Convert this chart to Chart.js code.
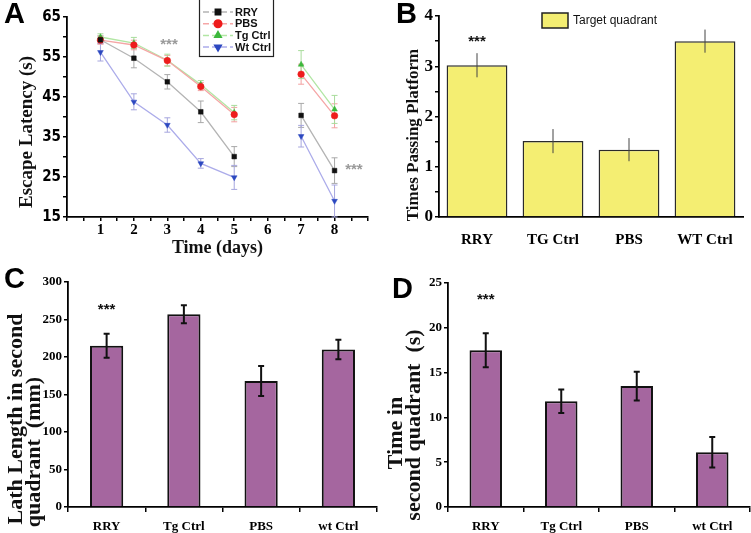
<!DOCTYPE html>
<html>
<head>
<meta charset="utf-8">
<script src="https://cdn.jsdelivr.net/npm/chart.js@4.4.1/dist/chart.umd.min.js"></script>
<style>
  body { margin: 0; background: #fff; width: 751px; height: 533px; position: relative; overflow: hidden; }
  canvas { position: absolute; }
  .panel { position: absolute; font-family: 'Liberation Sans', Arial, sans-serif; font-weight: bold; font-size: 29px; line-height: 29px; color: #000; }
  .ytitle { position: absolute; font-family: 'Liberation Serif', 'Times New Roman', serif; font-weight: bold; white-space: nowrap;
            transform: translate(-50%, -50%) rotate(-90deg); color: #111; line-height: 1; }
</style>
</head>
<body>
<canvas id="chartA" width="375" height="260" style="left:0;top:0"></canvas>
<canvas id="chartB" width="371" height="260" style="left:380px;top:0"></canvas>
<canvas id="chartC" width="380" height="273" style="left:0;top:260px"></canvas>
<canvas id="chartD" width="371" height="273" style="left:380px;top:260px"></canvas>

<div class="panel" style="left:4px;top:-1px">A</div>
<div class="panel" style="left:396px;top:-1px">B</div>
<div class="panel" style="left:4px;top:264px">C</div>
<div class="panel" style="left:392px;top:274px">D</div>

<div class="ytitle" style="left:25px;top:132px;font-size:19px">Escape Latency (s)</div>
<div class="ytitle" style="left:412px;top:135px;font-size:17px">Times Passing Platform</div>
<div class="ytitle" style="left:15px;top:419px;font-size:22px">Lath Length in second</div>
<div class="ytitle" style="left:33px;top:452px;font-size:22px">quadrant&nbsp;&nbsp;(mm)</div>
<div class="ytitle" style="left:395px;top:433px;font-size:22px">Time in</div>
<div class="ytitle" style="left:413px;top:425px;font-size:22px">second quadrant&nbsp;&nbsp;(s)</div>

<script>
// Panel A: escape latency per day (day 6 has no trial)
const days = [1, 2, 3, 4, 5, 6, 7, 8];
const rryLatency = [59.3, 54.7, 48.8, 41.3, 30.1, null, 40.4, 26.6];
const rryErr     = [1.0, 2.4, 1.8, 2.7, 2.5, null, 3.0, 3.2];
const pbsLatency = [59.2, 58.0, 54.1, 47.6, 40.6, null, 50.7, 40.3];
const pbsErr     = [1.0, 1.2, 1.3, 1.0, 1.8, null, 2.5, 3.0];
const tgLatency  = [60.0, 58.5, 54.2, 48.1, 41.1, null, 53.1, 41.9];
const tgErr      = [0.8, 1.4, 1.5, 1.0, 1.8, null, 3.5, 3.5];
const wtLatency  = [56.2, 43.8, 38.0, 28.4, 24.9, null, 35.2, 19.0];
const wtErr      = [2.2, 2.0, 1.8, 1.2, 3.0, null, 2.7, 4.0];

// Panel B: times passing platform
const groupsB = ['RRY', 'TG Ctrl', 'PBS', 'WT Ctrl'];
const timesPassing = [3.02, 1.51, 1.34, 3.50];
const timesErr = [0.24, 0.24, 0.23, 0.23];

// Panels C and D
const groupsCD = ['RRY', 'Tg Ctrl', 'PBS', 'wt Ctrl'];
const lathLength = [215, 257, 168, 210];
const lathErr = [16, 12, 20, 13];
const quadrantTime = [17.5, 11.8, 13.5, 6.1];
const quadrantErr = [1.9, 1.3, 1.6, 1.7];

Chart.defaults.animation = false;
Chart.defaults.responsive = false;
Chart.defaults.plugins.legend.display = false;
Chart.defaults.plugins.tooltip.enabled = false;
Chart.defaults.color = '#000';

const serif = "'Liberation Serif', 'Times New Roman', serif";
const narrow = "'Liberation Sans Narrow', 'DejaVu Sans Condensed', 'Liberation Sans', sans-serif";

// draws +/- error bars for every dataset that carries an `errors` array
function drawErrors(chart, opts) {
  const ctx = chart.ctx;
  const yScale = chart.scales.y;
  chart.data.datasets.forEach((ds, di) => {
    if (!ds.errors) return;
    const meta = chart.getDatasetMeta(di);
    meta.data.forEach((el, i) => {
      const raw = ds.data[i];
      const val = raw !== null && typeof raw === 'object' ? raw.y : raw;
      const err = ds.errors[i];
      if (val == null || err == null) return;
      const top = yScale.getPixelForValue(val + err);
      const bot = yScale.getPixelForValue(val - err);
      ctx.save();
      ctx.strokeStyle = ds.errorColor || opts.color || '#000';
      ctx.lineWidth = opts.width || 1;
      ctx.beginPath();
      ctx.moveTo(el.x, top);
      ctx.lineTo(el.x, bot);
      if (opts.cap) {
        ctx.moveTo(el.x - opts.cap, top); ctx.lineTo(el.x + opts.cap, top);
        ctx.moveTo(el.x - opts.cap, bot); ctx.lineTo(el.x + opts.cap, bot);
      }
      ctx.stroke();
      ctx.restore();
    });
  });
}
const errorBars = {
  id: 'errorBars',
  beforeDatasetsDraw(chart, args, opts) { if (opts.behind) drawErrors(chart, opts); },
  afterDatasetsDraw(chart, args, opts) { if (!opts.behind) drawErrors(chart, opts); }
};

// significance marks placed in data coordinates
const stars = {
  id: 'stars',
  afterDatasetsDraw(chart, args, opts) {
    const ctx = chart.ctx;
    (opts.items || []).forEach(s => {
      ctx.save();
      ctx.fillStyle = s.color || '#000';
      ctx.font = 'bold ' + (s.size || 14) + "px 'Liberation Sans', Arial, sans-serif";
      ctx.textAlign = 'center';
      ctx.textBaseline = 'middle';
      ctx.fillText('***', chart.scales.x.getPixelForValue(s.x), chart.scales.y.getPixelForValue(s.y));
      ctx.restore();
    });
  }
};

// legend box of panel A, drawn from the dataset styles
const legendA = {
  id: 'legendA',
  afterDraw(chart) {
    const ctx = chart.ctx;
    ctx.save();
    ctx.strokeStyle = '#222';
    ctx.lineWidth = 1.2;
    ctx.strokeRect(199.5, -2, 74, 58.5);
    chart.data.datasets.forEach((ds, i) => {
      const y = 12 + i * 11.7;
      ctx.strokeStyle = ds.borderColor;
      ctx.lineWidth = 1.5;
      ctx.setLineDash([6, 3]);
      ctx.beginPath(); ctx.moveTo(203, y); ctx.lineTo(233, y); ctx.stroke();
      ctx.setLineDash([]);
      ctx.fillStyle = ds.pointBackgroundColor;
      ctx.strokeStyle = ds.pointBackgroundColor;
      Chart.helpers.drawPoint(ctx, {
        pointStyle: ds.pointStyle, rotation: ds.pointRotation || 0,
        radius: 3.8, borderWidth: 0.5
      }, 218, y);
      ctx.fillStyle = '#111';
      ctx.font = "bold 11px 'Liberation Sans', Arial, sans-serif";
      ctx.textBaseline = 'middle';
      ctx.fillText(ds.label, 235, y + 0.5);
    });
    ctx.restore();
  }
};

const legendB = {
  id: 'legendB',
  afterDraw(chart) {
    const ctx = chart.ctx;
    const ds = chart.data.datasets[0];
    ctx.save();
    ctx.fillStyle = ds.backgroundColor;
    ctx.strokeStyle = '#222';
    ctx.lineWidth = 1.5;
    ctx.fillRect(162, 13, 26, 15);
    ctx.strokeRect(162, 13, 26, 15);
    ctx.fillStyle = '#111';
    ctx.font = "12px 'Liberation Sans', Arial, sans-serif";
    ctx.textBaseline = 'middle';
    ctx.fillText(ds.label, 193, 21);
    ctx.restore();
  }
};

function axisY(min, max, step, width, labelFn, font, tickLen) {
  return {
    min, max,
    ticks: { stepSize: step, callback: labelFn, font, color: '#000', padding: 2, autoSkip: false },
    grid: { drawOnChartArea: false, tickLength: tickLen, color: '#000', lineWidth: 1.5 },
    border: { color: '#000', width: 1.8 },
    afterFit(s) { s.width = width; }
  };
}

function lineSet(label, values, errs, lineColor, markColor, errColor, pointStyle, rotation) {
  return {
    label,
    data: days.map((d, i) => ({ x: d, y: values[i] })),
    errors: errs,
    errorColor: errColor,
    borderColor: lineColor,
    borderWidth: 1.3,
    pointStyle,
    pointRotation: rotation,
    pointRadius: 3.3,
    pointBackgroundColor: markColor,
    pointBorderColor: markColor,
    pointBorderWidth: 0.5,
    spanGaps: false
  };
}

new Chart(document.getElementById('chartA'), {
  type: 'line',
  data: {
    datasets: [
      lineSet('RRY', rryLatency, rryErr, '#b4b4b4', '#111111', '#a8a8a8', 'rect', 0),
      lineSet('PBS', pbsLatency, pbsErr, '#f5a6a6', '#ee1c1c', '#f2a0a0', 'circle', 0),
      lineSet('Tg Ctrl', tgLatency, tgErr, '#b2e6a4', '#3cb83c', '#a8dc9c', 'triangle', 0),
      lineSet('Wt Ctrl', wtLatency, wtErr, '#acacea', '#2c48c0', '#a6a6de', 'triangle', 180)
    ]
  },
  options: {
    layout: { padding: { top: 17, right: 7, left: 0, bottom: 0 } },
    scales: {
      x: {
        type: 'linear', min: 0, max: 9,
        ticks: { stepSize: 0.5, autoSkip: false, maxRotation: 0, padding: 0, color: '#000',
                 font: { family: serif, size: 15, weight: 'bold' },
                 callback: v => (Number.isInteger(v) && v >= 1 && v <= 8) ? String(v) : '' },
        grid: { drawOnChartArea: false, tickLength: 4, color: '#000', lineWidth: 1.5 },
        border: { color: '#000', width: 1.8 },
        title: { display: true, text: 'Time (days)', color: '#111',
                 font: { family: serif, size: 18, weight: 'bold' }, padding: { top: 0, bottom: 1 } },
        afterFit(s) { s.height = 43; }
      },
      y: axisY(15, 65, 5, 67, v => (v % 10 === 5 ? String(v) : ''),
               { family: narrow, size: 15, weight: 'bold' }, 4)
    },
    plugins: {
      errorBars: { behind: true, width: 1, cap: 3 },
      stars: { items: [ { x: 3.05, y: 58, color: '#9a9a9a', size: 15 },
                        { x: 8.58, y: 26.7, color: '#9a9a9a', size: 15 } ] }
    }
  },
  plugins: [errorBars, stars, legendA]
});

new Chart(document.getElementById('chartB'), {
  type: 'bar',
  data: {
    labels: groupsB,
    datasets: [{
      label: 'Target quadrant',
      data: timesPassing,
      errors: timesErr,
      backgroundColor: '#f4ee72',
      borderColor: '#2a2a2a',
      borderWidth: 1.5,
      borderSkipped: 'bottom',
      barPercentage: 0.8,
      categoryPercentage: 1.0
    }]
  },
  options: {
    layout: { padding: { top: 16, right: 8, left: 0, bottom: 0 } },
    scales: {
      x: {
        ticks: { font: { family: serif, size: 15, weight: 'bold' }, color: '#000', padding: 6 },
        grid: { display: false },
        border: { display: true, color: '#000', width: 1.8 },
        afterFit(s) { s.height = 43; }
      },
      y: axisY(0, 4, 0.5, 59, v => (Number.isInteger(v) ? String(v) : ''),
               { family: serif, size: 17, weight: 'bold' }, 4)
    },
    plugins: {
      errorBars: { width: 1, cap: 0, color: '#444' },
      stars: { items: [ { x: 0, y: 3.48, color: '#111', size: 15 } ] }
    }
  },
  plugins: [errorBars, stars, legendB]
});

function purpleBars(canvasId, values, errs, yMax, yStep, padTop, padRight, starY) {
  return new Chart(document.getElementById(canvasId), {
    type: 'bar',
    data: {
      labels: groupsCD,
      datasets: [{
        data: values,
        errors: errs,
        backgroundColor: '#a5669f',
        borderColor: '#111',
        borderWidth: 2,
        borderSkipped: 'bottom',
        barPercentage: 0.43,
        categoryPercentage: 1.0
      }]
    },
    options: {
      layout: { padding: { top: padTop, right: padRight, left: 0, bottom: 0 } },
      scales: {
        x: {
          ticks: { font: { family: serif, size: 13, weight: 'bold' }, color: '#000', padding: 7 },
          grid: { drawOnChartArea: false, tickLength: 5, color: '#000', lineWidth: 1.5 },
          border: { color: '#000', width: 1.8 },
          afterFit(s) { s.height = 26; }
        },
        y: axisY(0, yMax, yStep, 68, v => String(v), { family: serif, size: 13, weight: 'bold' }, 4)
      },
      plugins: {
        errorBars: { width: 2, cap: 3, color: '#111' },
        stars: { items: [ { x: 0, y: starY, color: '#111', size: 15 } ] }
      }
    },
    plugins: [errorBars, stars]
  });
}

purpleBars('chartC', lathLength, lathErr, 300, 50, 22, 3, 263);
purpleBars('chartD', quadrantTime, quadrantErr, 25, 5, 23, 1, 23.1);
</script>
</body>
</html>
